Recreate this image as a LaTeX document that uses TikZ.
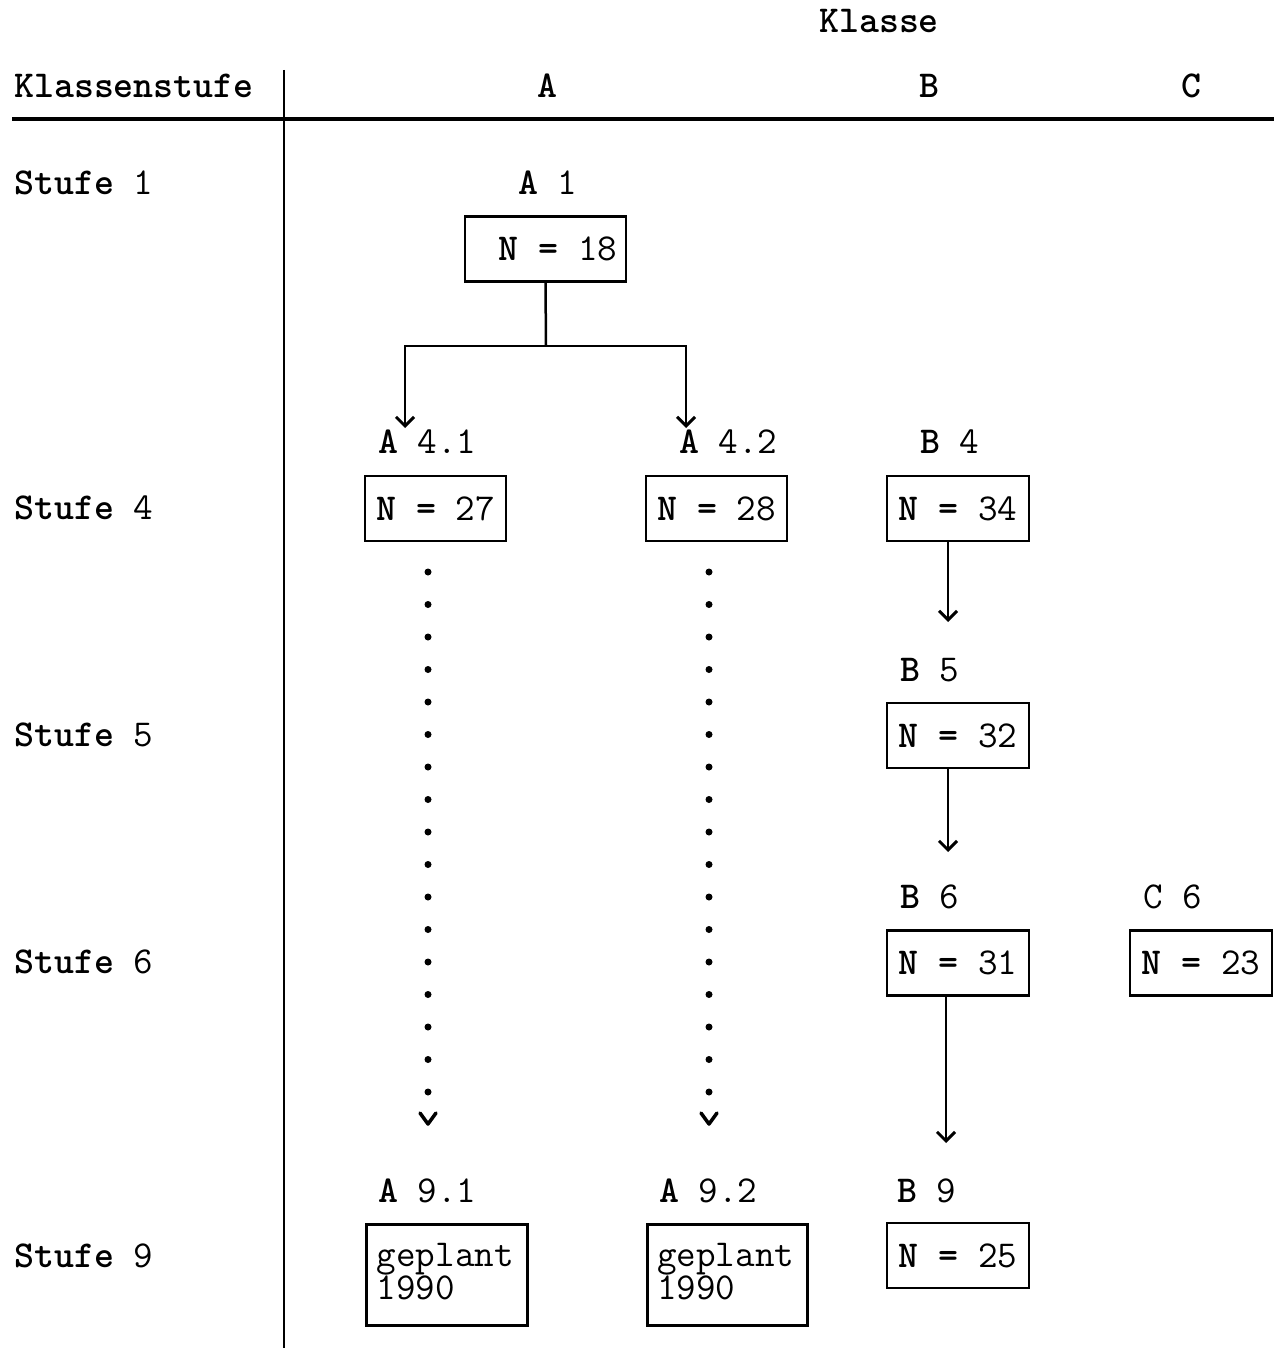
\documentclass[tikz,border=0pt]{standalone}
\usetikzlibrary{arrows.meta}
\newcommand\bl[1]{\textbf{#1}}
\begin{document}
\begin{tikzpicture}[x=1pt,y=-1pt,
  every node/.style={font=\ttfamily\fontsize{38}{33}\selectfont, inner sep=0pt},
  lbl/.style={anchor=base west},
  hdr/.style={anchor=base},
  box/.style={draw, line width=2.5pt, minimum height=65pt},
  conn/.style={line width=2.5pt, -{Straight Barb[length=9pt,width=18pt,line width=3pt]}},
  plain/.style={line width=2.5pt},
  dotconn/.style={line width=7pt, line cap=round, dash pattern=on 0pt off 32.5pt},
  chev/.style={line width=3.5pt, line cap=round, line join=round}
]
\useasboundingbox (0,0) rectangle (1274,1348);

% header
\node[lbl] (klasse) at (819,33) {\bl{Klasse}};
\node[lbl] (kstufe) at (14,98) {\bl{Klassenstufe}};
\node[hdr] (hA) at (547,98) {\bl{A}};
\node[hdr] (hB) at (929,98) {\bl{B}};
\node[hdr] (hC) at (1191,98) {\bl{C}};
\coordinate (hl1) at (12,119);
\coordinate (hl2) at (1274,119);
\coordinate (vl1) at (284,70);
\coordinate (vl2) at (284,1348);
\draw[line width=3.5pt] (hl1) -- (hl2);
\draw[line width=2pt] (vl1) -- (vl2);

% Stufe labels
\node[lbl] (s1) at (14,195) {\bl{Stufe} 1};
\node[lbl] (s4) at (14,519) {\bl{Stufe} 4};
\node[lbl] (s5) at (14,746) {\bl{Stufe} 5};
\node[lbl] (s6) at (14,973) {\bl{Stufe} 6};
\node[lbl] (s9) at (14,1267) {\bl{Stufe} 9};

% class labels
\node[lbl] (lA1) at (518,195) {\bl{A} 1};
\node[lbl] (lA41) at (378,453) {\bl{A} 4.1};
\node[lbl] (lA42) at (679,453) {\bl{A} 4.2};
\node[lbl] (lB4) at (920,453) {\bl{B} 4};
\node[lbl] (lB5) at (900,681) {\bl{B} 5};
\node[lbl] (lB6) at (900,908) {\bl{B} 6};
\node[lbl] (lC6) at (1143,908) {C 6};
\node[lbl] (lA91) at (378,1202) {\bl{A} 9.1};
\node[lbl] (lA92) at (659,1202) {\bl{A} 9.2};
\node[lbl] (lB9) at (897,1202) {\bl{B} 9};

% boxes
\node[box, minimum width=161pt] (b1) at (545.5,249) {\hspace*{25pt}\bl{N =} 18};
\node[box, minimum width=141pt] (a41) at (435.5,508.5) {\bl{N =} 27};
\node[box, minimum width=141pt] (a42) at (716.5,508.5) {\bl{N =} 28};
\node[box, minimum width=142pt] (b4) at (958,508.5) {\bl{N =} 34};
\node[box, minimum width=142pt] (b5) at (958,735.5) {\bl{N =} 32};
\node[box, minimum width=142pt] (b6) at (958,963) {\bl{N =} 31};
\node[box, minimum width=142pt] (c6) at (1201,963) {\bl{N =} 23};
\node[box, minimum width=142pt] (b9) at (958,1255.5) {\bl{N =} 25};
\node[box, minimum width=161pt, minimum height=99pt, text width=140pt, align=left, anchor=north west, inner sep=0pt] (a91) at (365,1223) {\rule{0pt}{42pt}geplant\\1990\rule[-26pt]{0pt}{26pt}};
\node[box, minimum width=160pt, minimum height=99pt, text width=140pt, align=left, anchor=north west, inner sep=0pt] (a92) at (646,1223) {\rule{0pt}{42pt}geplant\\1990\rule[-26pt]{0pt}{26pt}};

% A1 split
\coordinate (split) at (546,346);
\coordinate (t41) at (405,428);
\coordinate (t42) at (686,428);
\draw[plain] (b1.south) -- (split);
\draw[conn] (split) -| (t41);
\draw[conn] (split) -| (t42);

% B column arrows
\coordinate (tB5) at (948,622);
\coordinate (tB6) at (948,852);
\coordinate (tB9) at (946,1143);
\draw[conn] (b4.south -| tB5) -- (tB5);
\draw[conn] (b5.south -| tB6) -- (tB6);
\draw[conn] (b6.south -| tB9) -- (tB9);

% dotted connectors
\coordinate (d1s) at (428,572);
\coordinate (d1e) at (428,1093);
\coordinate (d2s) at (709,572);
\coordinate (d2e) at (709,1093);
\draw[dotconn] (d1s) -- (d1e);
\draw[dotconn] (d2s) -- (d2e);
\coordinate (c1) at (428,1124);
\coordinate (c2) at (709,1124);
\draw[chev] ([xshift=-8pt,yshift=11pt]c1) -- (c1) -- ([xshift=8pt,yshift=11pt]c1);
\draw[chev] ([xshift=-8pt,yshift=11pt]c2) -- (c2) -- ([xshift=8pt,yshift=11pt]c2);
\end{tikzpicture}
\end{document}
